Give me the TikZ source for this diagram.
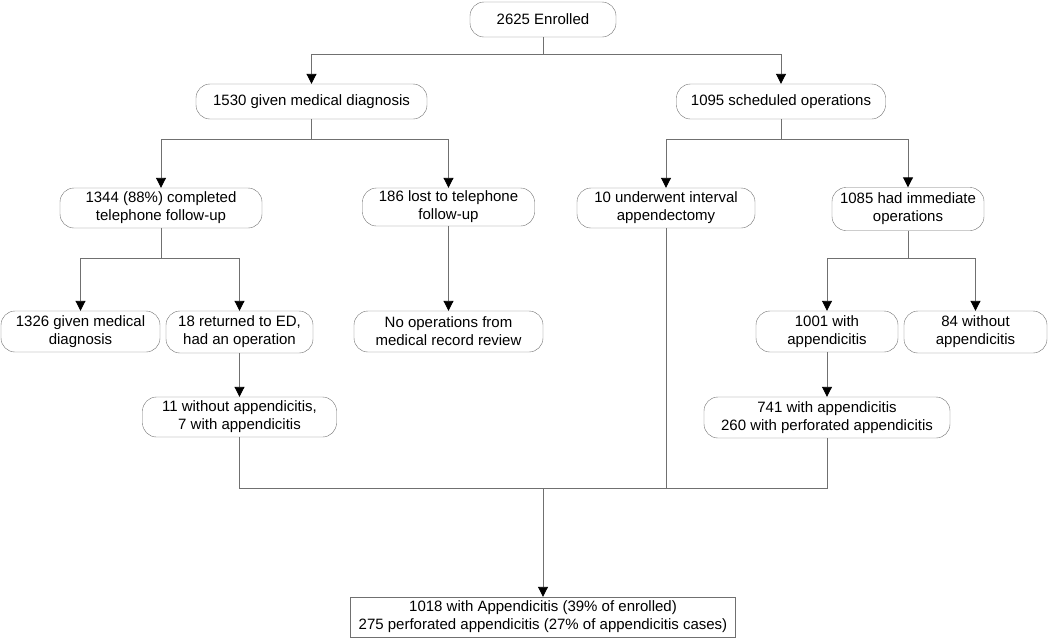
\documentclass[tikz,border=0pt]{standalone}
\usepackage{fontspec}
\setmainfont{Liberation Sans}
\usetikzlibrary{positioning,arrows.meta}
\definecolor{linegray}{RGB}{112,112,112}
\tikzset{
  pill/.style={draw=linegray, rounded corners=14pt, align=center, inner sep=0pt,
    font=\fontsize{15}{18}\selectfont},
  flow/.style={draw=linegray, line width=0.9pt},
  arr/.style={flow, -{Triangle[color=black,width=10pt,length=10pt]}}
}

\begin{document}
\begin{tikzpicture}[x=1pt,y=-1pt]
  \useasboundingbox (0,0) rectangle (1050,638);

  % Nodo de arriba
  \node[pill, minimum width=146pt, minimum height=35pt] (enrol) at (543,19.5) {2625 Enrolled};

  % Segundo nivel
  \node[pill, minimum width=231pt, minimum height=35pt] (meddx) at (311.5,101.5) {1530 given medical diagnosis};
  \node[pill, minimum width=209pt, minimum height=35pt] (sched) at (781,101.5) {1095 scheduled operations};

  % Tercer nivel
  \node[pill, minimum width=202pt, minimum height=40pt] (phone) at (161,208) {1344 (88\%) completed\\telephone follow-up};
  \node[pill, minimum width=172pt, minimum height=38pt] (lost) at (448.5,207) {186 lost to telephone\\follow-up};
  \node[pill, minimum width=178pt, minimum height=40pt] (interval) at (666,208) {10 underwent interval\\appendectomy};
  \node[pill, minimum width=152pt, minimum height=43pt] (immed) at (908,209) {1085 had immediate\\operations};

  % Cuarto nivel
  \node[pill, minimum width=159pt, minimum height=41pt] (dx1326) at (80.5,331.5) {1326 given medical\\diagnosis};
  \node[pill, minimum width=147pt, minimum height=42pt] (ed18) at (239.5,332) {18 returned to ED,\\had an operation};
  \node[pill, minimum width=189pt, minimum height=41pt] (noop) at (448.5,331.5) {No operations from\\medical record review};
  \node[pill, minimum width=142pt, minimum height=41pt] (with1001) at (827,331.5) {1001 with\\appendicitis};
  \node[pill, minimum width=143pt, minimum height=42pt] (wo84) at (975.5,332) {84 without\\appendicitis};

  % Quinto nivel
  \node[pill, minimum width=194pt, minimum height=40pt] (fu11) at (239.5,417) {11 without appendicitis,\\7 with appendicitis};
  \node[pill, minimum width=246pt, minimum height=41pt] (perf) at (827,417.5) {741 with appendicitis\\260 with perforated appendicitis};

  % Total
  \node[pill, rounded corners=0pt, minimum width=385pt, minimum height=40pt] (total) at (543,617) {1018 with Appendicitis (39\% of enrolled)\\275 perforated appendicitis (27\% of appendicitis cases)};

  % Puntos de division
  \coordinate (s0) at (543,54);
  \coordinate (s1) at (311.5,139);
  \coordinate (s2) at (781,139);
  \coordinate (s3) at (161,258);
  \coordinate (s4) at (908,258);
  \coordinate (m) at (543,488);

  % Conexiones
  \draw[flow] (enrol) -- (s0);
  \draw[arr] (s0) -| (meddx);
  \draw[arr] (s0) -| (sched);
  \draw[flow] (meddx) -- (s1);
  \draw[arr] (s1) -| (phone);
  \draw[arr] (s1) -| (lost);
  \draw[flow] (sched) -- (s2);
  \draw[arr] (s2) -| (interval);
  \draw[arr] (s2) -| (immed);
  \draw[flow] (phone) -- (s3);
  \draw[arr] (s3) -| (dx1326);
  \draw[arr] (s3) -| (ed18);
  \draw[flow] (immed) -- (s4);
  \draw[arr] (s4) -| (with1001);
  \draw[arr] (s4) -| (wo84);
  \draw[arr] (lost) -- (noop);
  \draw[arr] (ed18) -- (fu11);
  \draw[arr] (with1001) -- (perf);
  \draw[flow] (fu11) |- (m);
  \draw[flow] (interval) |- (m);
  \draw[flow] (perf) |- (m);
  \draw[arr] (m) -- (total);
\end{tikzpicture}
\end{document}
